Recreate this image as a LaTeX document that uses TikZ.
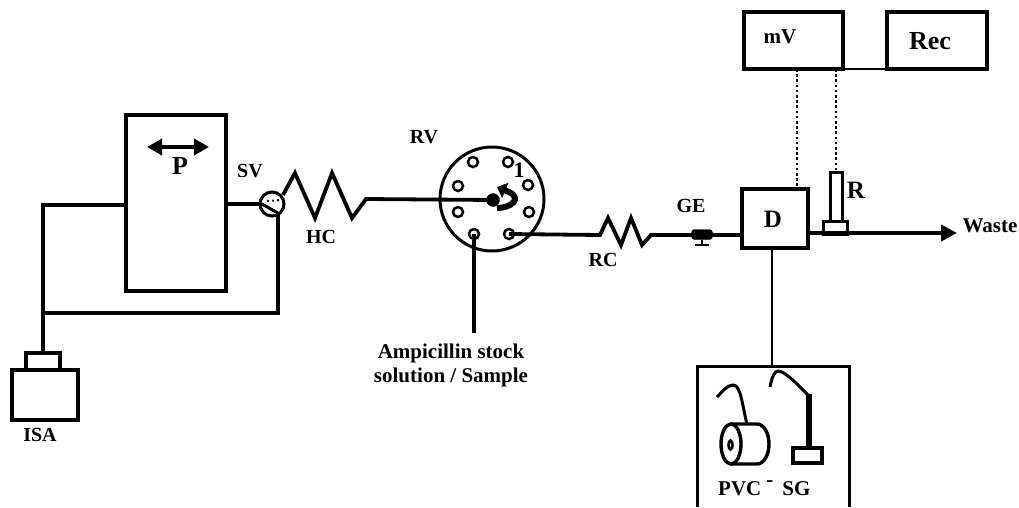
\documentclass[tikz,border=0pt]{standalone}
\usepackage{fontspec}
\setmainfont{Liberation Serif}
\usetikzlibrary{arrows.meta}
\tikzset{
  boxnode/.style={draw,line width=3.6pt,inner sep=0pt,outer sep=0pt,anchor=north west},
  port/.style={draw,circle,line width=2.5pt,minimum size=10pt,inner sep=0pt,outer sep=0pt},
  pipe/.style={line width=3.8pt,line join=miter},
  thinpipe/.style={line width=2.6pt},
  dots/.style={line width=2.6pt,dash pattern=on 2.6pt off 2.6pt},
  lab/.style={font=\fontsize{21}{23}\selectfont\bfseries,inner sep=0pt,anchor=base},
  biglab/.style={font=\fontsize{26}{28}\selectfont\bfseries,inner sep=0pt,anchor=base},
}
\begin{document}
\begin{tikzpicture}[x=1pt,y=-1pt]
\useasboundingbox (0,0) rectangle (1019,507);
% boxes
\node[boxnode,minimum width=100pt,minimum height=176pt] (pump) at (126,115) {};
\node[boxnode,minimum width=66pt,minimum height=50pt] (isa) at (12,370) {};
\node[boxnode,minimum width=34pt,minimum height=17pt] (cap) at (26,353) {};
\node[boxnode,minimum width=66pt,minimum height=59pt,line width=4pt] (det) at (742,189) {};
\node[boxnode,minimum width=99pt,minimum height=57pt,line width=4pt] (mv) at (744,12) {};
\node[boxnode,minimum width=100pt,minimum height=57pt,line width=4pt] (rec) at (887,12) {};
\node[boxnode,minimum width=12pt,minimum height=49pt,line width=3pt] (tube) at (830,172) {};
\node[boxnode,minimum width=24pt,minimum height=13pt,line width=3pt] (rbase) at (823,221) {};
% selection valve
\node[draw,circle,line width=3pt,minimum size=24pt,inner sep=0pt,outer sep=0pt] (sv) at (272,204) {};
\coordinate (sva) at (260,203);
\coordinate (svb) at (278,213);
\draw[line width=3pt] (sva) -- (svb);
\draw[line width=2pt,dash pattern=on 2pt off 3pt] (267,201) -- (281,200);
% rotary valve
\node[draw,circle,line width=3pt,minimum size=104pt,inner sep=0pt,outer sep=0pt] (rv) at (492,199) {};
\node[port] (p1) at (473,162) {};
\node[port] (p2) at (508,162) {};
\node[port] (p3) at (458,186) {};
\node[port] (p4) at (528,185) {};
\node[port] (p5) at (458,212) {};
\node[port] (p6) at (529,212) {};
\node[port] (p7) at (474,234) {};
\node[port] (p8) at (509,234) {};
\node[draw,fill,circle,minimum size=13pt,inner sep=0pt,outer sep=0pt] (hub) at (493,200) {};
\coordinate (rota) at (497,208);
\coordinate (rotb) at (497,187);
\draw[line width=6pt,-{Triangle[length=9pt,width=16pt]}] (rota) .. controls (512,208) and (522,198) .. (509,192) -- (rotb);
% connectors
\draw[pipe] (pump.east |- sv.center) -- (sv.west);
\coordinate (junc) at (43,313);
\coordinate (tl) at (43,205);
\coordinate (br) at (278,313);
\draw[pipe] (pump.west |- tl) -- (tl) -- (cap.north -| tl);
\draw[pipe] (junc) -- (br) -- (svb);
% holding coil
\coordinate (h0) at (283,195);
\coordinate (h1) at (295,173);
\coordinate (h2) at (315,218);
\coordinate (h3) at (332,173);
\coordinate (h4) at (352,218);
\coordinate (h5) at (366,199);
\draw[pipe] (h0) -- (h1) -- (h2) -- (h3) -- (h4) -- (h5) -- (hub.center);
% sample inlet
\coordinate (samp) at (474,333);
\draw[pipe] (p7.center) -- (samp);
% reaction coil
\coordinate (r0) at (600,235);
\coordinate (r1) at (608,218);
\coordinate (r2) at (621,245);
\coordinate (r3) at (631,218);
\coordinate (r4) at (642,245);
\coordinate (r5) at (651,235);
\draw[pipe] (p8.center) -- (r0) -- (r1) -- (r2) -- (r3) -- (r4) -- (r5) -- (det.west |- r5);
% grounding electrode
\node[draw,fill,rounded corners=3pt,minimum width=21pt,minimum height=10pt,inner sep=0pt,outer sep=0pt] (ge) at (702,234.5) {};
\coordinate (gef) at (702,245);
\coordinate (gel) at (695,245);
\coordinate (ger) at (709,245);
\draw[line width=2pt] (ge.south) -- (gef);
\draw[line width=2pt] (gel) -- (ger);
% outlet
\coordinate (wend) at (957,233);
\draw[pipe,-{Triangle[length=16pt,width=16pt]}] (det.east |- wend) -- (wend);
% dotted
\draw[dots] (mv.south -| 797,0) -- (det.north -| 797,0);
\draw[dots] (mv.south -| tube.north) -- (tube.north);
% mV-Rec link
\draw[line width=2.6pt] (mv.south east) -- (rec.south west);
% pump arrow
\coordinate (pa) at (147,147);
\coordinate (pb) at (209,147);
\draw[line width=3.8pt,{Triangle[length=15pt,width=16pt]}-{Triangle[length=15pt,width=16pt]}] (pa) -- (pb);
% electrode box (open at the bottom edge)
\coordinate (eb1) at (697,507);
\coordinate (eb2) at (697,366);
\coordinate (eb3) at (849,366);
\coordinate (eb4) at (849,507);
\draw[line width=3pt,line join=miter] (eb1) -- (eb2) -- (eb3) -- (eb4);
\draw[thinpipe] (det.south -| 772,0) -- (eb2 -| 772,0);
% PVC roll
\draw[line width=3.4pt] (731,424) -- (757,424) arc[start angle=-90,end angle=90,x radius=12pt,y radius=-20pt] -- (731,464);
\draw[line width=3.4pt] (731,444) ellipse[x radius=10pt,y radius=20pt];
\draw[line width=2.6pt] (730.5,445) ellipse[x radius=2pt,y radius=4.5pt];
\draw[line width=3pt] (747,424) .. controls (742,405) and (741,385) .. (733,385) .. controls (727,385) and (722,392) .. (717,397);
% silver electrode
\draw[line width=3pt] (770,387) .. controls (772,376) and (775,371) .. (778,371) .. controls (785,371) and (798,385) .. (808,395);
\draw[line width=5.5pt] (809,394) -- (809,448);
\draw[line width=3.6pt] (793,448) rectangle (822,463);
% labels
\node[biglab] (lp) at (180,174) {P};
\node[lab,font=\fontsize{20}{22}\selectfont\bfseries] (lsv) at (250,177) {SV};
\node[lab,font=\fontsize{20}{22}\selectfont\bfseries] (lhc) at (321,243) {HC};
\node[lab,font=\fontsize{20}{22}\selectfont\bfseries] (lrv) at (424,143) {RV};
\node[lab,font=\fontsize{22}{22}\selectfont\bfseries] (lone) at (519,177) {1};
\node[lab,font=\fontsize{20}{22}\selectfont\bfseries] (lrc) at (603,266) {RC};
\node[lab,font=\fontsize{20}{22}\selectfont\bfseries] (lge) at (691,212) {GE};
\node[biglab,font=\fontsize{25}{27}\selectfont\bfseries] (ld) at (773,227) {D};
\node[biglab,font=\fontsize{25}{27}\selectfont\bfseries] (lr) at (856,198) {R};
\node[lab] (lmv) at (780,43) {mV};
\node[biglab] (lrec) at (930,49) {Rec};
\node[lab] (lw) at (990,232) {Waste};
\node[lab,font=\fontsize{20}{22}\selectfont\bfseries] (lisa) at (40,441) {ISA};
\node[font=\fontsize{21}{24}\selectfont\bfseries,inner sep=0pt,align=center] (lamp) at (451,365) {Ampicillin stock\\solution / Sample};
\node[lab,anchor=base west] (lpvc) at (718,495) {PVC\hspace{5pt}\raisebox{9pt}{-}\hspace{9pt}SG};
\end{tikzpicture}
\end{document}
